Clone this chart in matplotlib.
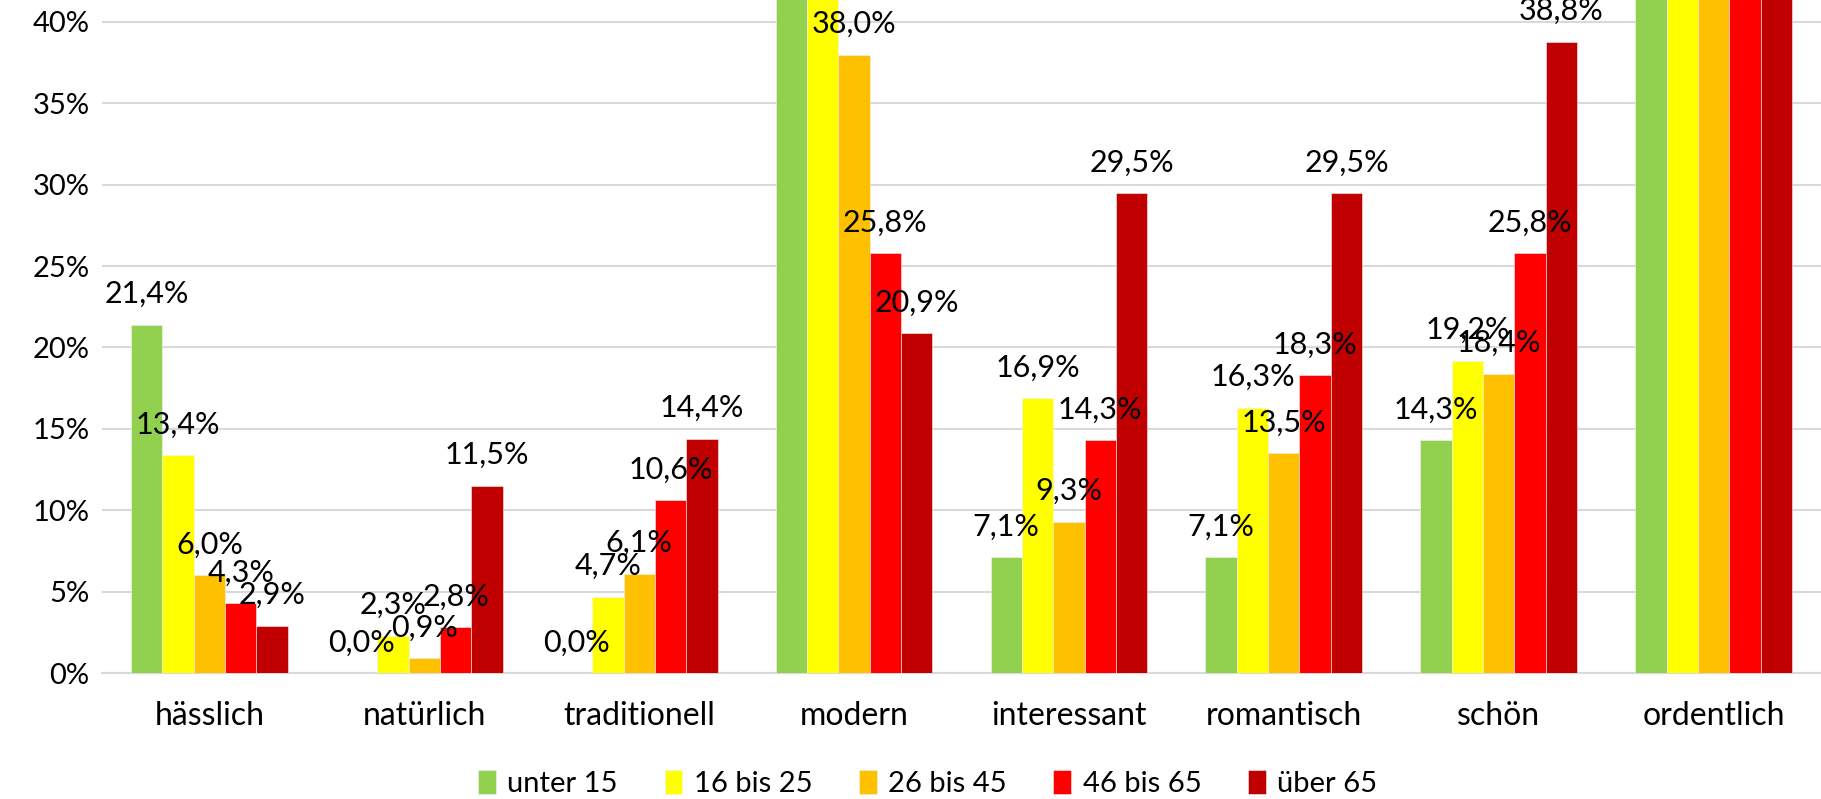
import matplotlib.pyplot as plt
import numpy as np

plt.rcParams['font.family'] = ['Lato', 'DejaVu Sans']

kategorien = ['hässlich', 'natürlich', 'traditionell', 'modern',
              'interessant', 'romantisch', 'schön', 'ordentlich']
gruppen = ['unter 15', '16 bis 25', '26 bis 45', '46 bis 65', 'über 65']
farben = ['#92d050', '#ffff00', '#ffc000', '#ff0000', '#c00000']

# Anteile in Prozent je Altersgruppe
unter_15 = [21.4, 0.0, 0.0, 50.0, 7.1, 7.1, 14.3, 57.1]
bis_25 = [13.4, 2.3, 4.7, 46.1, 16.9, 16.3, 19.2, 52.3]
bis_45 = [6.0, 0.9, 6.1, 38.0, 9.3, 13.5, 18.4, 53.5]
bis_65 = [4.3, 2.8, 10.6, 25.8, 14.3, 18.3, 25.8, 48.9]
ueber_65 = [2.9, 11.5, 14.4, 20.9, 29.5, 29.5, 38.8, 47.5]
werte = [unter_15, bis_25, bis_45, bis_65, ueber_65]

fig = plt.figure(figsize=(18.21, 7.99), dpi=100)
ax = fig.add_axes([102 / 1821, 126 / 799, 1719 / 1821, 673 / 799])

x = np.arange(len(kategorien))
breite = 0.146
for i, (name, reihe, farbe) in enumerate(zip(gruppen, werte, farben)):
    pos = x + (i - 2) * breite
    ax.bar(pos, reihe, breite, color=farbe, label=name,
           edgecolor='#f2f2f2', linewidth=0.4, zorder=3)
    for xp, v in zip(pos, reihe):
        ax.annotate(f'{v:.1f}'.replace('.', ',') + '%', (xp, v),
                    xytext=(0, 22), textcoords='offset points',
                    ha='center', va='center', fontsize=22, color='#000000',
                    zorder=4, annotation_clip=False)

ax.set_xlim(-0.5, len(kategorien) - 0.5)
ax.set_ylim(0, 41.35)
ax.set_yticks(range(0, 41, 5))
ax.set_yticklabels([f'{t}%' for t in range(0, 41, 5)], fontsize=21)
ax.set_xticks(x)
ax.set_xticklabels(kategorien, fontsize=23)
ax.tick_params(axis='both', length=0)
ax.tick_params(axis='x', pad=20)
ax.tick_params(axis='y', pad=9)
ax.grid(axis='y', color='#d9d9d9', linewidth=1.5, zorder=0)
for s in ['top', 'right', 'left']:
    ax.spines[s].set_visible(False)
ax.spines['bottom'].set_color('#d9d9d9')
ax.spines['bottom'].set_linewidth(1.5)

fig.legend(loc='center', bbox_to_anchor=(0.5095, 0.019), ncol=5, frameon=False,
           fontsize=21, handlelength=0.6, handleheight=0.9, handletextpad=0.4,
           columnspacing=1.6)

fig.savefig('out.png', dpi=100)
